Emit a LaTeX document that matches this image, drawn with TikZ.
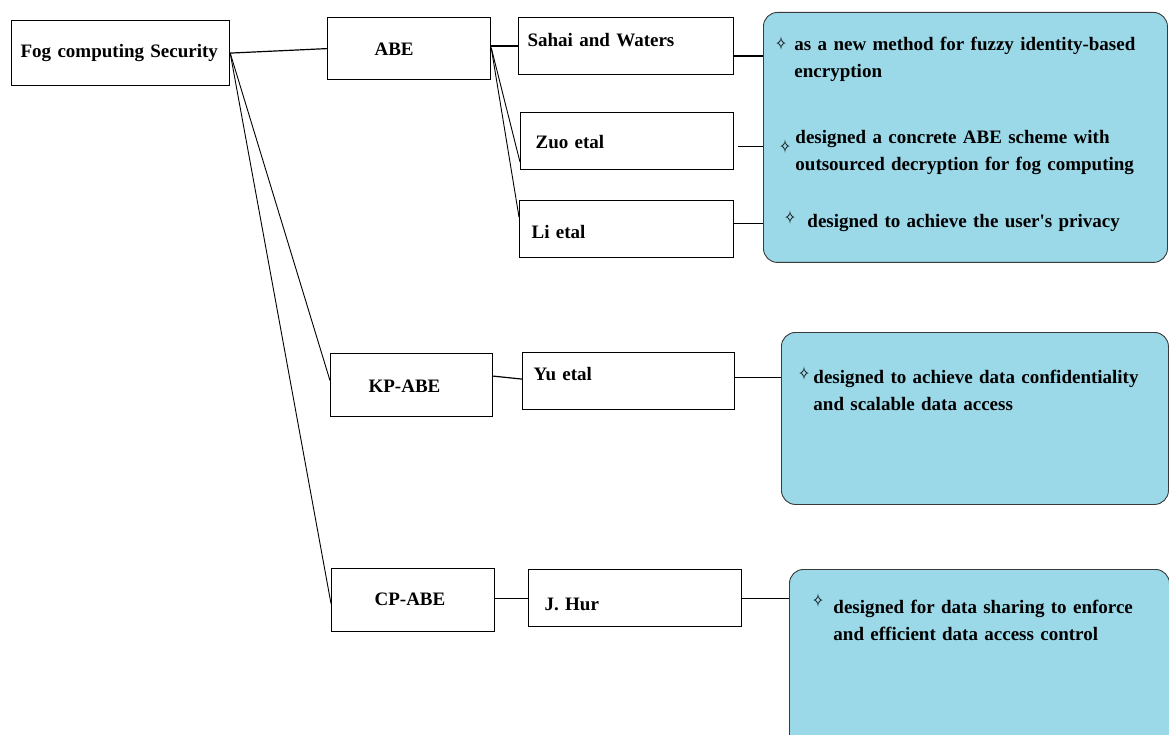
\documentclass[tikz,border=0pt]{standalone}
\usepackage{fontspec}
\setmainfont{Liberation Serif}
\newfontfamily\starfont{DejaVu Sans}
\usepackage{tikz}
\definecolor{NoteBlue}{HTML}{9BD8E8}
\definecolor{NoteEdge}{HTML}{3A3A3A}
\newcommand{\spark}[2]{\makebox[#1][l]{\raisebox{#2}{\scalebox{0.72}[1]{\starfont\bfseries\fontsize{19}{19}\selectfont ✧}}}}

\begin{document}
\begin{tikzpicture}[
      x=1pt, y=-1pt,
      box/.style={draw, line width=1.2pt, fill=white, anchor=north west, inner ysep=0pt, align=left, font=\fontsize{19}{27}\selectfont\bfseries},
      note/.style={draw=NoteEdge, line width=0.9pt, fill=NoteBlue, rounded corners=14pt, anchor=north west, inner xsep=12pt, inner ysep=0pt, align=left, font=\fontsize{19}{27}\selectfont\bfseries},
      ln/.style={line width=1.2pt},
      thinln/.style={line width=0.9pt}
    ]
    \useasboundingbox (0,0) rectangle (1169,735);
    \clip (0,0) rectangle (1169,735);
    \fill[white] (0,0) rectangle (1169,735);
    \node[box, text width=200pt, inner xsep=9pt, text height=36.5pt, text depth=28.5pt] (fog) at (11,20) {\mbox{Fog computing Security}};
    \node[box, text width=69pt, inner xsep=47pt, text height=37.5pt, text depth=24.5pt] (abe) at (327,17) {ABE};
    \node[box, text width=86pt, inner xsep=38pt, text height=38.5pt, text depth=24.5pt] (kp) at (330,353) {KP-ABE};
    \node[box, text width=77pt, inner xsep=43pt, text height=37pt, text depth=26pt] (cp) at (331,568) {CP-ABE};
    \node[box, text width=197pt, inner xsep=9pt, text height=29pt, text depth=28pt] (sahai) at (518,17) {Sahai and Waters};
    \node[box, text width=183pt, inner xsep=15pt, text height=36pt, text depth=21pt] (zuo) at (520,112) {Zuo etal};
    \node[box, text width=190pt, inner xsep=12pt, text height=38pt, text depth=19pt] (li) at (519,200) {Li etal};
    \node[box, text width=190pt, inner xsep=11pt, text height=27.5pt, text depth=29.5pt] (yu) at (522,352) {Yu etal};
    \node[box, text width=181pt, inner xsep=16pt, text height=41pt, text depth=16pt] (hur) at (528,569) {J. Hur};
    \node[note, text width=380pt, text height=38pt, text depth=212pt] (n1) at (763,12) {%
      \spark{19pt}{0pt}as a new method for fuzzy identity-based\\
      \hspace*{19pt}encryption\\[39pt]
      \hspace*{4pt}\spark{16pt}{-10pt}designed a concrete ABE scheme with\\
      \hspace*{20pt}outsourced decryption for fog computing\\[30pt]
      \hspace*{9pt}\spark{23pt}{3pt}designed to achieve the user\textquotesingle s privacy};
    \node[note, text width=363pt, text height=51pt, text depth=121pt] (n2) at (781,332) {%
      \hspace*{5pt}\spark{15pt}{3pt}designed to achieve data confidentiality\\
      \hspace*{20pt}and scalable data access};
    \node[note, text width=356pt, text height=44pt, text depth=181pt] (n3) at (789,569) {%
      \hspace*{11pt}\spark{21pt}{6pt}designed for data sharing to enforce\\
      \hspace*{32pt}and efficient data access control};
    \draw[ln] (fog.east) -- (abe.west);
    \draw[thinln] (fog.east) -- ([yshift=4.5pt]kp.west);
    \draw[thinln] (fog.east) -- ([yshift=-3.5pt]cp.west);
    \draw[ln] (abe.east |- sahai.west) -- (sahai.west);
    \draw[thinln] ([yshift=1pt]abe.east) -- ([yshift=-21pt]zuo.west);
    \draw[thinln] ([yshift=1pt]abe.east) -- ([yshift=12pt]li.west);
    \draw[ln] ([yshift=9pt]kp.east) -- ([yshift=2pt]yu.west);
    \draw[ln] (hur.west -| cp.east) -- (hur.west);
    \coordinate (c1) at ([yshift=-10pt]sahai.east);
    \coordinate (c2) at ([xshift=4pt, yshift=-5.5pt]zuo.east);
    \coordinate (c3) at ([yshift=5.5pt]li.east);
    \coordinate (c4) at ([yshift=3.5pt]yu.east);
    \draw[ln] (c1) -- (c1 -| n1.west);
    \draw[ln] (c2) -- (c2 -| n1.west);
    \draw[ln] (c3) -- (c3 -| n1.west);
    \draw[ln] (c4) -- (c4 -| n2.west);
    \draw[ln] (hur.east) -- (hur.east -| n3.west);
  \end{tikzpicture}
\end{document}
